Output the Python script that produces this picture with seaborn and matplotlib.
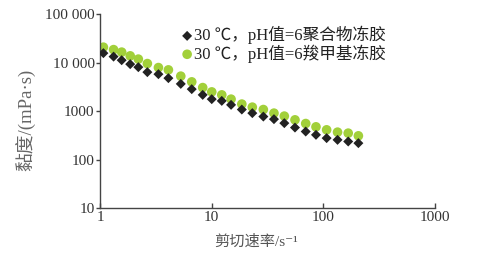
import numpy as np
import pandas as pd
import matplotlib
matplotlib.use("Agg")
import matplotlib.pyplot as plt
import seaborn as sns
from matplotlib.ticker import FixedLocator, NullLocator

shear_rate = [1.07, 1.32, 1.56, 1.86, 2.20, 2.65, 3.33, 4.09, 5.28, 6.62, 8.30, 10.0, 12.3,
              14.9, 18.6, 23.1, 29.0, 36.1, 44.7, 55.7, 69.5, 85.9, 107, 134, 167, 206]
visc_polymer = [15800, 13400, 11300, 9360, 8110, 6400, 5810, 4810, 3660, 2850, 2170, 1770, 1630,
                1350, 1080, 910, 773, 683, 565, 458, 379, 324, 277, 255, 236, 218]
visc_cmc = [21000, 18700, 16600, 13900, 11900, 9630, 7960, 7130, 5290, 4030, 3070, 2500, 2170,
            1770, 1400, 1210, 1080, 910, 790, 661, 555, 474, 411, 368, 351, 309]
label_polymer = "30 ℃，pH值=6聚合物冻胶"
label_cmc = "30 ℃，pH值=6羧甲基冻胶"
x_ticks = [1, 10, 100, 1000]
x_ticklabels = ["1", "10", "100", "1000"]
y_ticks = [10, 100, 1000, 10000, 100000]
y_ticklabels = ["10", "100", "1000", "10 000", "100 000"]

sns.set_theme(style="white")
fam = ["Liberation Serif", "Noto Sans CJK SC", "DejaVu Sans"]
plt.rcParams["font.family"] = fam
plt.rcParams["axes.unicode_minus"] = False

df = pd.DataFrame({
    "shear": shear_rate * 2,
    "visc": visc_cmc + visc_polymer,
    "series": [label_cmc] * len(shear_rate) + [label_polymer] * len(shear_rate),
})

fig = plt.figure(figsize=(4.86, 2.57), dpi=100)
ax = fig.add_axes([0.206, 0.191, 0.689, 0.753])

green = "#a2d03a"
black = "#222222"
sns.scatterplot(data=df[df.series == label_cmc], x="shear", y="visc", color=green,
                marker="o", s=48, edgecolor="none", ax=ax, label=label_cmc, zorder=2)
sns.scatterplot(data=df[df.series == label_polymer], x="shear", y="visc", color=black,
                marker="D", s=26, edgecolor="none", ax=ax, label=label_polymer, zorder=3)

ax.set_xscale("log")
ax.set_yscale("log")
ax.set_xlim(1, 1000)
ax.set_ylim(10, 100000)
ax.xaxis.set_major_locator(FixedLocator(x_ticks))
ax.xaxis.set_minor_locator(NullLocator())
ax.yaxis.set_major_locator(FixedLocator(y_ticks))
ax.yaxis.set_minor_locator(NullLocator())
ax.set_xticklabels(x_ticklabels)
ax.set_yticklabels(y_ticklabels)

tc = "#333333"
for s in ["top", "right"]:
    ax.spines[s].set_visible(False)
for s in ["left", "bottom"]:
    ax.spines[s].set_color("#444444")
    ax.spines[s].set_linewidth(1.0)
ax.tick_params(axis="x", direction="in", length=3.5, width=1, colors="#444444",
               labelcolor=tc, labelsize=11, pad=2, bottom=True)
ax.tick_params(axis="y", direction="out", length=3, width=1, colors="#444444",
               labelcolor=tc, labelsize=11, pad=1, left=True)

ax.set_xlabel("剪切速率/s⁻¹", fontsize=11, color="#555555")
ax.set_ylabel("黏度/(mPa·s)", fontsize=13.5, color="#666666")
ax.xaxis.set_label_coords(0.466, -0.14)
ax.yaxis.set_label_coords(-0.19, 0.455)

h, l = ax.get_legend_handles_labels()
order = [l.index(label_polymer), l.index(label_cmc)]
ax.legend([h[i] for i in order], [l[i] for i in order], loc="upper left",
          bbox_to_anchor=(0.22, 0.975), frameon=False, fontsize=12,
          handletextpad=0.0, handlelength=0.8, labelspacing=0.0,
          borderaxespad=0, labelcolor="#222222")

fig.savefig("out.png", dpi=100)
